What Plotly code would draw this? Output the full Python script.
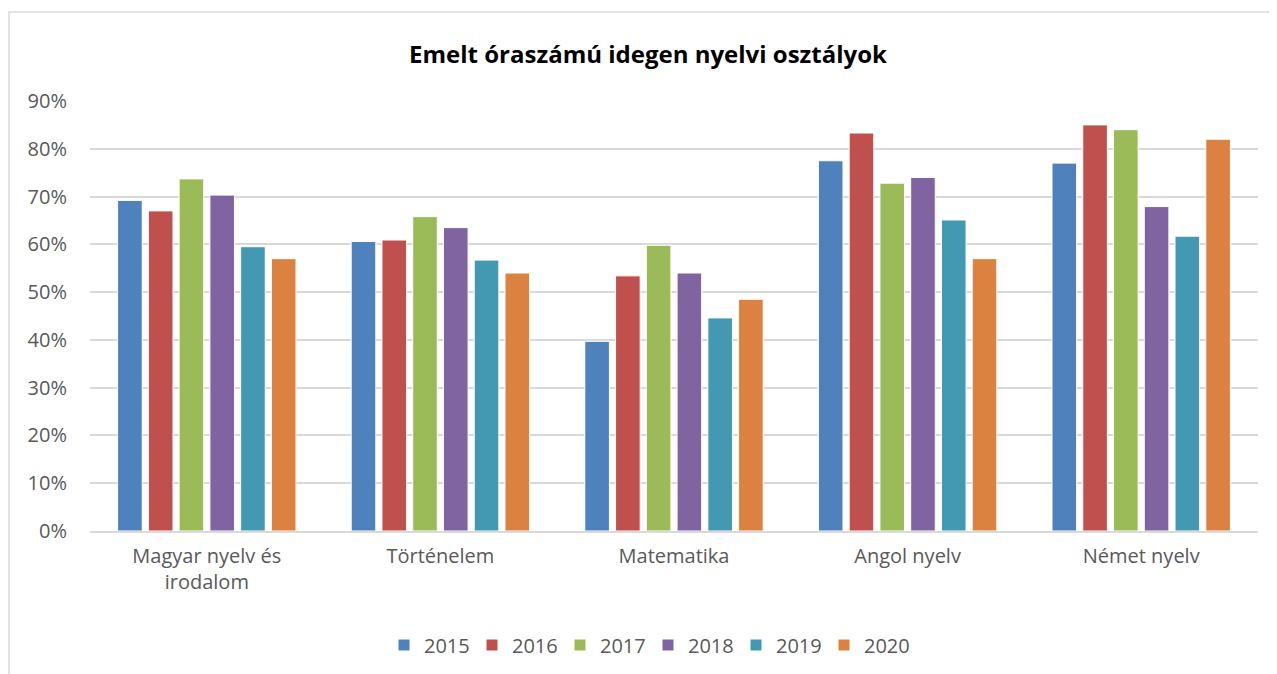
import plotly.graph_objects as go

categories = ["Magyar nyelv és<br>irodalom", "Történelem", "Matematika", "Angol nyelv", "Német nyelv"]
years = ["2015", "2016", "2017", "2018", "2019", "2020"]
v2015 = [0.692, 0.606, 0.397, 0.775, 0.770]
v2016 = [0.670, 0.609, 0.534, 0.833, 0.850]
v2017 = [0.737, 0.658, 0.598, 0.728, 0.840]
v2018 = [0.703, 0.635, 0.540, 0.740, 0.679]
v2019 = [0.595, 0.567, 0.446, 0.651, 0.617]
v2020 = [0.570, 0.540, 0.485, 0.570, 0.820]
series = [v2015, v2016, v2017, v2018, v2019, v2020]
colors = ["#4F81BD", "#C0504D", "#9BBB59", "#8064A2", "#4399B1", "#DC8240"]
yticks = [0, 0.1, 0.2, 0.3, 0.4, 0.5, 0.6, 0.7, 0.8, 0.9]

FONT = "Open Sans"
GREY = "#595959"
# page body has an 8px margin: figure occupies page x 8..1277, y 8..674
W, H = 1269, 666
L, R, T, B = 82, 19, 93, 143
pw, ph = W - L - R, H - T - B

fig = go.Figure()
for name, vals, col in zip(years, series, colors):
    fig.add_trace(go.Bar(name=name, x=categories, y=vals,
                         marker=dict(color=col, line=dict(color="white", width=1))))

fig.update_layout(
    width=W, height=H,
    margin=dict(l=L, r=R, t=T, b=B),
    paper_bgcolor="white", plot_bgcolor="white",
    barmode="group", bargap=0.21, bargroupgap=0.2,
    title=dict(text="<b>Emelt óraszámú idegen nyelvi osztályok</b>",
               x=(648 - 8) / W, xref="container", xanchor="center",
               y=1 - (55 - 8) / H, yanchor="middle",
               font=dict(family=FONT, size=24, color="black")),
    font=dict(family=FONT, size=20, color=GREY),
    legend=dict(orientation="h", x=(648 - 8) / W, xanchor="center", xref="container",
                y=1 - (645 - 8) / H, yref="container", yanchor="middle",
                font=dict(family=FONT, size=20, color=GREY),
                itemwidth=30, entrywidth=43, traceorder="normal"),
    showlegend=True,
)
fig.update_yaxes(range=[0, 0.9], tickvals=yticks, tickformat=".0%",
                 showgrid=True, gridcolor="#D9D9D9", gridwidth=1.5,
                 zeroline=False, showline=False, ticks="", ticklabelstandoff=22,
                 tickfont=dict(family=FONT, size=20, color=GREY))
fig.update_xaxes(showline=True, linecolor="#D9D9D9", linewidth=1.5, ticks="",
                 ticklabelstandoff=6,
                 tickfont=dict(family=FONT, size=20, color=GREY))

# chart-area border: left at page x=9, top at page y=12, running off the right and bottom edges
fig.add_shape(type="rect", xref="paper", yref="paper",
              x0=(1 - L) / pw, x1=(W + 20 - L) / pw,
              y0=-(B + 20) / ph, y1=1 + (T - 4) / ph,
              line=dict(color="#D9D9D9", width=1.5), fillcolor="rgba(0,0,0,0)", layer="below")

fig.write_html("out.html")
